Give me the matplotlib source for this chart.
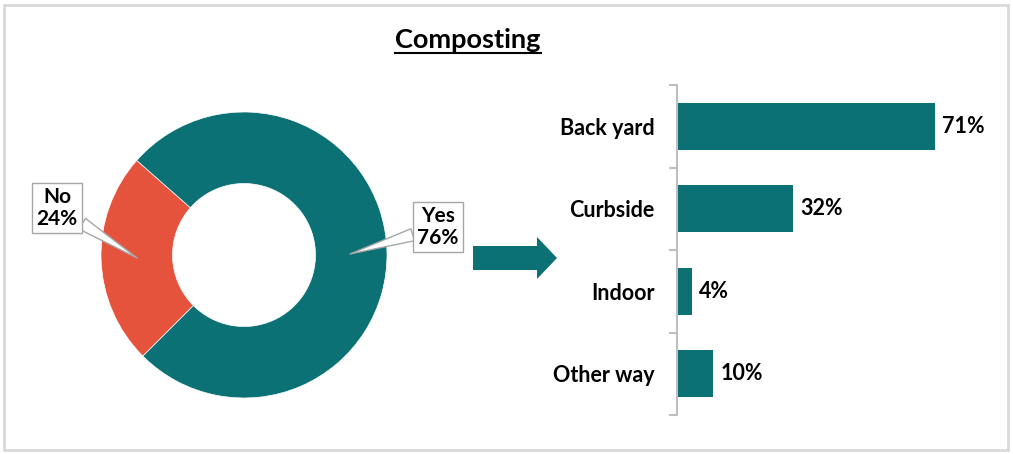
import matplotlib
matplotlib.use("Agg")
import matplotlib.pyplot as plt
import matplotlib.patches as mpatches
from matplotlib.lines import Line2D

plt.rcParams['font.family'] = ['Lato', 'DejaVu Sans']
plt.rcParams['font.weight'] = 'bold'

TEAL = '#0B7174'
RED = '#E5533D'
GREY = '#BFBFBF'

# donut data
donut_labels = ['No', 'Yes']
donut_values = [24, 76]

# follow-up: how people compost
methods = ['Back yard', 'Curbside', 'Indoor', 'Other way']
method_pct = [71, 32, 4, 10]

W, H = 1013, 454
fig = plt.figure(figsize=(W / 100, H / 100), dpi=100)


def px_axes(x0, y0, x1, y1):
    # axes placed by pixel box (top-left origin)
    return fig.add_axes([x0 / W, 1 - y1 / H, (x1 - x0) / W, (y1 - y0) / H])


# overlay for frame and the block arrow
deco = px_axes(0, 0, W, H)
deco.set_xlim(0, W)
deco.set_ylim(H, 0)
deco.axis('off')
deco.add_patch(mpatches.Rectangle((4, 5), 1004, 445, fill=False, ec='#D9D9D9', lw=2))
deco.add_patch(mpatches.FancyArrow(473, 258, 84, 0, width=24, head_width=42,
                                   head_length=20, length_includes_head=True,
                                   fc=TEAL, ec='none'))

# donut
R = 143
cx, cy = 244, 255
ax_pie = px_axes(cx - 150, cy - 150, cx + 150, cy + 150)
wedges, _ = ax_pie.pie(donut_values, colors=[RED, TEAL], startangle=138.6,
                       counterclock=True, radius=1,
                       wedgeprops=dict(width=0.5, edgecolor='white', linewidth=0.5))
ax_pie.set_aspect('auto')
ax_pie.set_xlim(-150 / R, 150 / R)
ax_pie.set_ylim(-150 / R, 150 / R)
ax_pie.axis('off')

callouts = [((-0.748, -0.021), (-1.308, 0.329)), ((0.741, 0.007), (1.357, 0.196))]
for lab, val, (tip, box) in zip(donut_labels, donut_values, callouts):
    ax_pie.annotate(f'{lab}\n{val}%', xy=tip, xytext=box, ha='center', va='center',
                    fontsize=15, fontweight='bold', color='black',
                    linespacing=1.15, annotation_clip=False,
                    bbox=dict(boxstyle='square,pad=0.2', fc='white', ec='#A6A6A6', lw=1),
                    arrowprops=dict(arrowstyle='wedge,tail_width=0.6,shrink_factor=0.5',
                                    fc='white', ec='#A6A6A6', lw=1, shrinkA=0, shrinkB=0))

# bar chart
ax = px_axes(677, 85, 677 + 90 * 3.64, 415)
ypos = list(range(len(methods)))
bars = ax.barh(ypos, method_pct, height=0.57, color=TEAL)
ax.set_xlim(0, 90)
ax.set_ylim(len(methods) - 0.5, -0.5)
for b, v in zip(bars, method_pct):
    ax.annotate(f'{v}%', (b.get_width(), b.get_y() + b.get_height() / 2),
                xytext=(5, 0), textcoords='offset points', ha='left', va='center',
                fontsize=15.5, fontweight='bold')

ax.set_yticks(ypos)
ax.set_yticklabels(methods, fontsize=15.5, fontweight='bold')
ax.set_yticks([i - 0.5 for i in range(len(methods) + 1)], minor=True)
ax.tick_params(axis='y', which='major', length=0, pad=16)
ax.tick_params(axis='y', which='minor', length=6, width=1.5, color=GREY)
ax.set_xticks([])
for s in ['top', 'right', 'bottom']:
    ax.spines[s].set_visible(False)
ax.spines['left'].set_color(GREY)
ax.spines['left'].set_linewidth(1.5)

# underlined title
title = fig.text(468 / W, 1 - 40 / H, 'Composting', ha='center', va='center',
                 fontsize=19.5, fontweight='bold')
fig.canvas.draw()
bb = title.get_window_extent()
deco.add_line(Line2D([bb.x0, bb.x1], [H - bb.y0 + 1, H - bb.y0 + 1], color='black', lw=1.5))

fig.savefig('out.png', dpi=100)
